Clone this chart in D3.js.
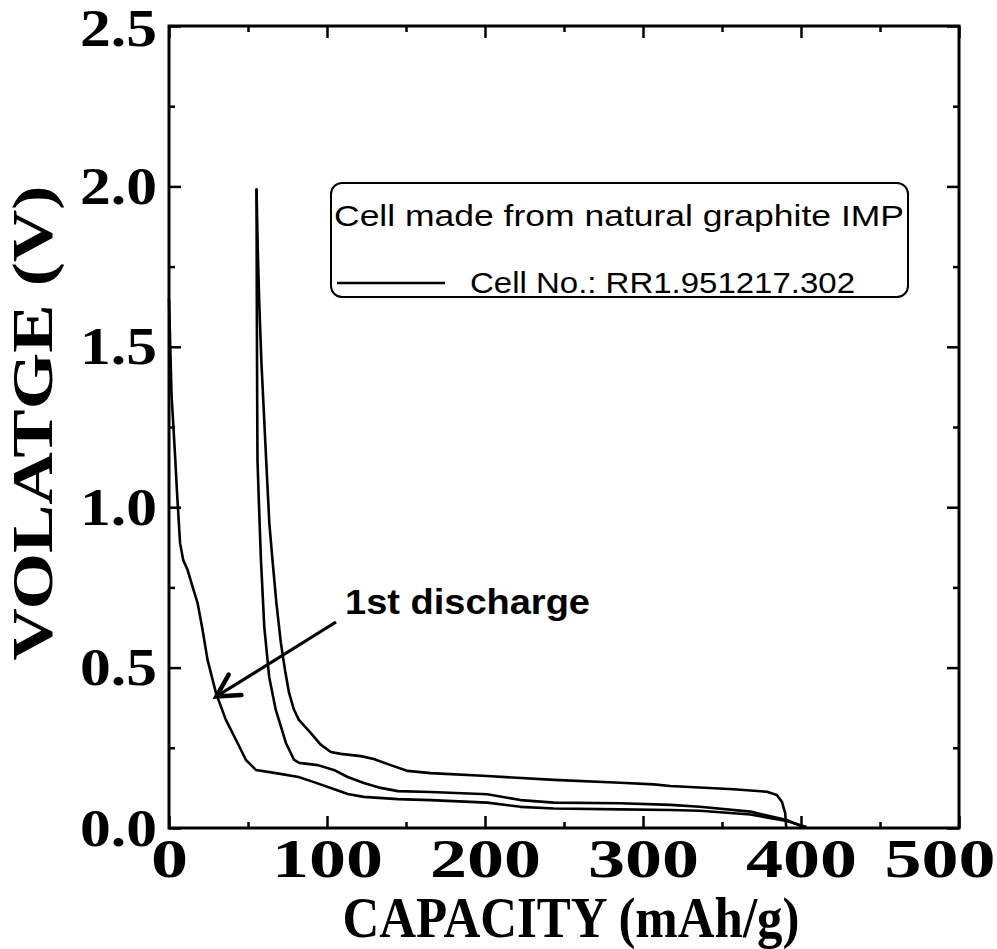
<!DOCTYPE html>
<html>
<head>
<meta charset="utf-8">
<script src="https://cdn.jsdelivr.net/npm/d3@7"></script>
<style>
  html, body { margin: 0; padding: 0; background: #fff; }
  svg { display: block; }
</style>
</head>
<body>
<svg id="chart" width="997" height="949"></svg>
<script>
// ---------- data ----------
const xMajorTicks = [0, 100, 200, 300, 400, 500];
const xMinorTicks = [50, 150, 250, 350, 450];
const yMajorTicks = [0.0, 0.5, 1.0, 1.5, 2.0, 2.5];
const yMinorTicks = [0.25, 0.75, 1.25, 1.75, 2.25];
const xTickLabels = ["0", "100", "200", "300", "400", "500"];
const yTickLabels = ["0.0", "0.5", "1.0", "1.5", "2.0", "2.5"];

// 1st discharge (capacity mAh/g, voltage V)
const firstDischargeCap = [0, 0.8, 1.6, 2.8, 4.0, 5.1, 7.0, 9.0, 11.8, 15.0, 18.1, 20.9, 24.4, 29.7, 36.0, 43.4, 48.7, 55.0, 67.6, 82.0, 91.7, 102.4, 113.1, 123.3, 144.8, 165.6, 201.5, 222.5, 243.6, 285.7, 317.3, 336, 368, 391, 403];
const firstDischargeV   = [1.65, 1.5, 1.35, 1.25, 1.147, 1.044, 0.888, 0.835, 0.804, 0.751, 0.701, 0.627, 0.524, 0.421, 0.337, 0.265, 0.212, 0.181, 0.171, 0.159, 0.143, 0.125, 0.106, 0.097, 0.090, 0.087, 0.079, 0.066, 0.061, 0.058, 0.056, 0.054, 0.042, 0.022, 0.004];

// charge
const chargeCap = [390.6, 390.0, 387.9, 384.7, 378.4, 357.3, 317.3, 306.8, 285.7, 243.6, 201.5, 165.6, 151.1, 140.3, 129.6, 121.4, 108.7, 102.4, 96, 89.8, 82.2, 79, 76, 73.5, 70.8, 68, 65.5, 63.5, 61.5, 60, 58.5, 57.1, 56.2, 55.4];
const chargeV   = [0.005, 0.046, 0.082, 0.103, 0.113, 0.121, 0.131, 0.136, 0.141, 0.150, 0.162, 0.171, 0.178, 0.196, 0.215, 0.224, 0.231, 0.237, 0.26, 0.296, 0.337, 0.37, 0.421, 0.49, 0.577, 0.7, 0.835, 0.95, 1.147, 1.3, 1.45, 1.64, 1.8, 1.99];

// 2nd discharge
const secondDischargeCap = [55.4, 55.6, 55.8, 56.0, 57.0, 58.2, 60.3, 63.4, 67.6, 74.0, 79.2, 82.4, 94.2, 104.3, 113.1, 123.3, 134.0, 144.8, 165.6, 201.5, 222.5, 243.6, 285.7, 317.3, 336, 368, 391, 400];
const secondDischargeV   = [1.99, 1.6, 1.35, 1.147, 1.0, 0.835, 0.627, 0.471, 0.368, 0.265, 0.212, 0.203, 0.196, 0.181, 0.159, 0.140, 0.125, 0.115, 0.112, 0.105, 0.087, 0.079, 0.077, 0.072, 0.066, 0.051, 0.025, 0.006];

const legendTitle = "Cell made from natural graphite IMP";
const legendSeries = "Cell No.: RR1.951217.302";
const annotationText = "1st discharge";
const annotationTarget = [30, 0.41];

// ---------- layout ----------
const svg = d3.select("#chart");
const L = 169, R = 959, T = 26, B = 828;
const x = d3.scaleLinear().domain([0, 500]).range([L, R]);
const y = d3.scaleLinear().domain([0, 2.5]).range([B, T]);

const serif = "'Liberation Serif', 'Times New Roman', serif";
const sans = "'Liberation Sans', Arial, sans-serif";

// frame
svg.append("rect").attr("x", L).attr("y", T).attr("width", R - L).attr("height", B - T)
  .attr("fill", "none").attr("stroke", "#000").attr("stroke-width", 3);

function styleAxis(g) {
  g.select(".domain").remove();
  g.selectAll(".tick line").attr("stroke", "#000").attr("stroke-width", 2.5);
}

// bottom axis with labels
const gx = svg.append("g").attr("transform", `translate(0,${B})`)
  .call(d3.axisBottom(x).tickValues(xMajorTicks).tickSize(-12).tickFormat((d, i) => xTickLabels[i]));
styleAxis(gx);
gx.selectAll(".tick text")
  .attr("y", 49).attr("dy", null)
  .attr("font-family", serif).attr("font-weight", "bold").attr("font-size", 55).attr("fill", "#000")
  .attr("textLength", (d, i) => xTickLabels[i].length * 37).attr("lengthAdjust", "spacingAndGlyphs")
  .attr("text-anchor", (d, i) => i === xTickLabels.length - 1 ? "end" : "middle")
  .attr("x", (d, i) => i === xTickLabels.length - 1 ? 36 : 0);
svg.append("g").attr("transform", `translate(0,${B})`)
  .call(d3.axisBottom(x).tickValues(xMinorTicks).tickSize(-6).tickFormat(""))
  .call(styleAxis);
// top
svg.append("g").attr("transform", `translate(0,${T})`)
  .call(d3.axisTop(x).tickValues(xMajorTicks).tickSize(-12).tickFormat("")).call(styleAxis);
svg.append("g").attr("transform", `translate(0,${T})`)
  .call(d3.axisTop(x).tickValues(xMinorTicks).tickSize(-6).tickFormat("")).call(styleAxis);

// left axis with labels
const gy = svg.append("g").attr("transform", `translate(${L},0)`)
  .call(d3.axisLeft(y).tickValues(yMajorTicks).tickSize(-12).tickFormat((d, i) => yTickLabels[i]));
styleAxis(gy);
gy.selectAll(".tick text")
  .attr("x", -12).attr("dy", (d, i) => i === yTickLabels.length - 1 ? "0.38em" : "0.33em")
  .attr("font-family", serif).attr("font-weight", "bold").attr("font-size", 52).attr("fill", "#000")
  .attr("textLength", 77).attr("lengthAdjust", "spacingAndGlyphs");
svg.append("g").attr("transform", `translate(${L},0)`)
  .call(d3.axisLeft(y).tickValues(yMinorTicks).tickSize(-6).tickFormat("")).call(styleAxis);
// right
svg.append("g").attr("transform", `translate(${R},0)`)
  .call(d3.axisRight(y).tickValues(yMajorTicks).tickSize(-12).tickFormat("")).call(styleAxis);
svg.append("g").attr("transform", `translate(${R},0)`)
  .call(d3.axisRight(y).tickValues(yMinorTicks).tickSize(-6).tickFormat("")).call(styleAxis);

// axis titles
svg.append("text").attr("x", 571).attr("y", 937).attr("text-anchor", "middle")
  .attr("font-family", serif).attr("font-weight", "bold").attr("font-size", 57)
  .attr("textLength", 457).attr("lengthAdjust", "spacingAndGlyphs")
  .text("CAPACITY (mAh/g)");
svg.append("text").attr("transform", "translate(52,423) rotate(-90)").attr("text-anchor", "middle")
  .attr("font-family", serif).attr("font-weight", "bold").attr("font-size", 57)
  .attr("textLength", 475).attr("lengthAdjust", "spacingAndGlyphs")
  .text("VOLATGE (V)");

// curves
const line = d3.line().x(d => x(d[0])).y(d => y(d[1]));
const series = [
  d3.zip(firstDischargeCap, firstDischargeV),
  d3.zip(chargeCap, chargeV),
  d3.zip(secondDischargeCap, secondDischargeV)
];
svg.append("g").selectAll("path").data(series).join("path")
  .attr("d", line).attr("fill", "none").attr("stroke", "#000")
  .attr("stroke-width", 2.6).attr("stroke-linejoin", "round").attr("stroke-linecap", "round");

// legend
svg.append("rect").attr("x", 331).attr("y", 183).attr("width", 577).attr("height", 114)
  .attr("rx", 11).attr("ry", 11).attr("fill", "#fff").attr("stroke", "#000").attr("stroke-width", 2);
svg.append("text").attr("x", 334).attr("y", 226)
  .attr("font-family", sans).attr("font-size", 29)
  .attr("textLength", 570).attr("lengthAdjust", "spacingAndGlyphs").text(legendTitle);
svg.append("line").attr("x1", 337).attr("x2", 445).attr("y1", 283).attr("y2", 283)
  .attr("stroke", "#000").attr("stroke-width", 2.6);
svg.append("text").attr("x", 470).attr("y", 293)
  .attr("font-family", sans).attr("font-size", 29)
  .attr("textLength", 385).attr("lengthAdjust", "spacingAndGlyphs").text(legendSeries);

// annotation
svg.append("text").attr("x", 345).attr("y", 614)
  .attr("font-family", sans).attr("font-weight", "bold").attr("font-size", 35)
  .attr("textLength", 245).attr("lengthAdjust", "spacingAndGlyphs").text(annotationText);
const tip = [x(annotationTarget[0]), y(annotationTarget[1])];
const start = [336, 622];
svg.append("line").attr("x1", start[0]).attr("y1", start[1]).attr("x2", tip[0]).attr("y2", tip[1])
  .attr("stroke", "#000").attr("stroke-width", 3.2);
const ang = Math.atan2(start[1] - tip[1], start[0] - tip[0]);
const headLen = 25, spread = 0.5;
const b1 = [tip[0] + headLen * Math.cos(ang + spread), tip[1] + headLen * Math.sin(ang + spread)];
const b2 = [tip[0] + headLen * Math.cos(ang - spread), tip[1] + headLen * Math.sin(ang - spread)];
svg.append("path").attr("d", `M${b1[0]},${b1[1]}L${tip[0]},${tip[1]}L${b2[0]},${b2[1]}`)
  .attr("fill", "none").attr("stroke", "#000").attr("stroke-width", 4.5)
  .attr("stroke-linejoin", "miter").attr("stroke-linecap", "round");
</script>
</body>
</html>
